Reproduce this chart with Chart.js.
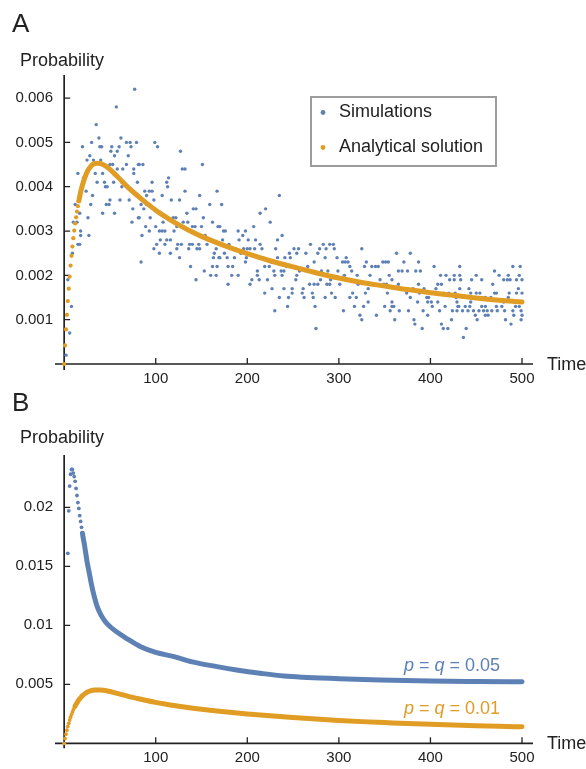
<!DOCTYPE html>
<html>
<head>
<meta charset="utf-8">
<script src="https://cdn.jsdelivr.net/npm/chart.js@4.4.0/dist/chart.umd.min.js"></script>
<style>
  html, body { margin: 0; padding: 0; background: #fff; }
  #wrap { position: relative; width: 586px; height: 769px; }
  canvas { display: block; position: absolute; left: 0; }
  #panelA { top: 0; }
  #panelB { top: 385px; }
</style>
</head>
<body>
<div id="wrap">
<canvas id="panelA" width="586" height="400"></canvas>
<canvas id="panelB" width="586" height="384"></canvas>
</div>
<script>
// ---- data ----
const timeTicks = [100, 200, 300, 400, 500];
const probTicksA = [0.001, 0.002, 0.003, 0.004, 0.005, 0.006];
const probLabelsA = ['0.001', '0.002', '0.003', '0.004', '0.005', '0.006'];
const probTicksB = [0.005, 0.01, 0.015, 0.02];
const probLabelsB = ['0.005', '0.01', '0.015', '0.02'];

// simulation estimates, panel A: [time, probability]
const simulations = [
  [2,0.0002],[4,0.0019],[6,0.0007],[8,0.0013],[9,0.0025],[10,0.0032],[12,0.0036],[14,0.0032],[15,0.0027],[15,0.0043],
  [17,0.0027],[17,0.0034],[18,0.0029],[18,0.0030],[20,0.0049],[21,0.0042],[24,0.0039],[25,0.0046],[26,0.0033],[27,0.0029],
  [28,0.0047],[29,0.0036],[30,0.0050],[31,0.0038],[32,0.0046],[34,0.0043],[35,0.0054],[36,0.0041],[38,0.0051],[39,0.0049],
  [40,0.0046],[41,0.0049],[42,0.0034],[42,0.0043],[44,0.0041],[45,0.0040],[46,0.0036],[47,0.0040],[49,0.0036],[50,0.0037],
  [50,0.0045],[51,0.0048],[52,0.0049],[53,0.0045],[54,0.0041],[55,0.0034],[55,0.0047],[57,0.0058],[58,0.0044],[58,0.0048],
  [60,0.0049],[61,0.0037],[62,0.0051],[63,0.0040],[63,0.0041],[64,0.0044],[68,0.0045],[68,0.0050],[70,0.0047],[71,0.0037],
  [72,0.0050],[73,0.0049],[74,0.0032],[75,0.0035],[76,0.0043],[76,0.0044],[77,0.0062],[79,0.0050],[80,0.0041],[81,0.0033],
  [81,0.0045],[82,0.0033],[82,0.0045],[84,0.0023],[84,0.0036],[85,0.0029],[86,0.0045],[87,0.0035],[88,0.0039],[89,0.0031],
  [90,0.0036],[90,0.0038],[93,0.0030],[93,0.0039],[94,0.0033],[96,0.0039],[96,0.0041],[98,0.0026],[98,0.0037],[99,0.0050],
  [100,0.0031],[101,0.0027],[102,0.0049],[104,0.0025],[104,0.0030],[105,0.0028],[107,0.0030],[107,0.0038],[108,0.0032],[110,0.0027],
  [110,0.0030],[112,0.0028],[112,0.0041],[113,0.0040],[114,0.0042],[116,0.0025],[116,0.0028],[117,0.0037],[119,0.0033],[120,0.0030],
  [122,0.0033],[123,0.0026],[123,0.0031],[124,0.0027],[126,0.0024],[126,0.0037],[127,0.0048],[128,0.0027],[129,0.0044],[130,0.0032],
  [132,0.0039],[132,0.0044],[134,0.0034],[135,0.0032],[136,0.0026],[137,0.0027],[138,0.0022],[140,0.0027],[140,0.0031],[141,0.0035],
  [143,0.0031],[144,0.0019],[144,0.0035],[145,0.0026],[147,0.0027],[148,0.0026],[148,0.0029],[148,0.0038],[150,0.0031],[151,0.0045],
  [152,0.0033],[153,0.0021],[154,0.0029],[156,0.0027],[157,0.0028],[159,0.0036],[160,0.0020],[162,0.0022],[162,0.0032],[163,0.0024],
  [164,0.0025],[166,0.0020],[166,0.0026],[167,0.0022],[167,0.0039],[168,0.0031],[169,0.0024],[170,0.0024],[170,0.0031],[172,0.0036],
  [173,0.0028],[174,0.0030],[175,0.0025],[176,0.0030],[178,0.0024],[179,0.0018],[179,0.0022],[180,0.0027],[183,0.0020],[184,0.0022],
  [186,0.0024],[187,0.0026],[190,0.0020],[190,0.0030],[191,0.0028],[193,0.0025],[195,0.0029],[196,0.0026],[198,0.0023],[198,0.0030],
  [199,0.0024],[200,0.0026],[201,0.0028],[203,0.0018],[203,0.0026],[205,0.0019],[207,0.0031],[208,0.0026],[209,0.0028],[211,0.0020],
  [211,0.0021],[213,0.0019],[214,0.0027],[214,0.0034],[216,0.0026],[217,0.0024],[219,0.0016],[219,0.0022],[220,0.0035],[222,0.0019],
  [224,0.0022],[225,0.0032],[226,0.0023],[227,0.0017],[229,0.0021],[230,0.0012],[230,0.0020],[231,0.0026],[233,0.0024],[233,0.0028],
  [235,0.0015],[235,0.0038],[237,0.0021],[238,0.0020],[238,0.0029],[240,0.0017],[240,0.0021],[241,0.0024],[243,0.0022],[244,0.0013],
  [245,0.0015],[246,0.0025],[247,0.0024],[249,0.0016],[249,0.0017],[251,0.0026],[252,0.0022],[253,0.0019],[254,0.0020],[254,0.0025],
  [256,0.0026],[257,0.0021],[260,0.0016],[261,0.0017],[262,0.0015],[264,0.0025],[266,0.0022],[268,0.0018],[269,0.0027],[271,0.0016],
  [272,0.0015],[273,0.0018],[273,0.0023],[274,0.0013],[275,0.0008],[277,0.0018],[277,0.0025],[279,0.0026],[280,0.0019],[281,0.0021],
  [283,0.0027],[285,0.0015],[285,0.0024],[286,0.0026],[287,0.0018],[288,0.0021],[290,0.0018],[290,0.0027],[291,0.0019],[292,0.0016],
  [294,0.0027],[295,0.0026],[296,0.0015],[298,0.0024],[299,0.0021],[301,0.0018],[304,0.0023],[305,0.0012],[306,0.0020],[307,0.0023],
  [308,0.0024],[310,0.0023],[312,0.0015],[312,0.0022],[314,0.0021],[315,0.0016],[317,0.0013],[319,0.0015],[320,0.0020],[321,0.0018],
  [323,0.0011],[325,0.0010],[325,0.0026],[327,0.0013],[328,0.0022],[329,0.0016],[330,0.0023],[332,0.0014],[332,0.0017],[334,0.0020],
  [336,0.0018],[336,0.0022],[340,0.0022],[341,0.0011],[343,0.0022],[345,0.0019],[348,0.0023],[349,0.0018],[350,0.0013],[351,0.0023],
  [352,0.0018],[353,0.0016],[354,0.0023],[355,0.0020],[356,0.0012],[358,0.0013],[358,0.0014],[358,0.0019],[360,0.0013],[361,0.0010],
  [363,0.0025],[365,0.0018],[365,0.0021],[366,0.0012],[369,0.0021],[371,0.0023],[374,0.0016],[375,0.0021],[376,0.0012],[378,0.0015],
  [378,0.0025],[381,0.0017],[382,0.0010],[383,0.0009],[384,0.0021],[386,0.0014],[387,0.0018],[387,0.0023],[388,0.0016],[389,0.0021],
  [391,0.0008],[392,0.0012],[393,0.0017],[396,0.0015],[397,0.0011],[397,0.0014],[398,0.0015],[401,0.0014],[402,0.0013],[403,0.0016],
  [404,0.0022],[406,0.0017],[408,0.0014],[408,0.0018],[410,0.0012],[411,0.0020],[412,0.0009],[412,0.0018],[414,0.0008],[414,0.0016],
  [416,0.0013],[417,0.0020],[419,0.0008],[420,0.0016],[421,0.0019],[423,0.0010],[424,0.0012],[426,0.0019],[426,0.0020],[427,0.0016],
  [428,0.0015],[429,0.0012],[429,0.0014],[430,0.0013],[431,0.0013],[432,0.0017],[432,0.0020],[432,0.0022],[433,0.0019],[435,0.0012],
  [436,0.0006],[438,0.0013],[439,0.0008],[441,0.0012],[442,0.0017],[443,0.0013],[444,0.0014],[444,0.0016],[445,0.0019],[447,0.0012],
  [449,0.0011],[450,0.0016],[450,0.0020],[451,0.0010],[453,0.0012],[454,0.0016],[456,0.0013],[456,0.0015],[456,0.0019],[458,0.0012],
  [460,0.0011],[460,0.0013],[460,0.0015],[462,0.0012],[463,0.0011],[466,0.0015],[467,0.0012],[468,0.0018],[470,0.0016],[470,0.0021],
  [472,0.0013],[472,0.0016],[473,0.0012],[475,0.0020],[478,0.0013],[480,0.0014],[480,0.0019],[481,0.0012],[482,0.0010],[484,0.0019],
  [485,0.0015],[485,0.0020],[486,0.0016],[487,0.0019],[488,0.0009],[490,0.0012],[490,0.0022],[491,0.0011],[493,0.0013],[494,0.0016],
  [494,0.0019],[496,0.0017],[497,0.0013],[497,0.0020],[498,0.0022],[499,0.0010],[499,0.0012],[500,0.0011],[500,0.0016],[500,0.0019]
];

// analytical solution, p = q = 0.01: [time, probability]
const analytical = [
  [0,0],[1,0.00042],[2,0.00078],[3,0.00111],[4,0.00142],[5,0.00170],[6,0.00197],[7,0.00222],[8,0.00244],[9,0.00265],
  [10,0.00284],[11,0.00301],[12,0.00317],[13,0.00331],[14,0.00344],[15,0.00356],[16,0.00368],[17,0.00378],[18,0.00388],[19,0.00396],
  [20,0.00404],[22,0.00417],[24,0.00428],[26,0.00437],[28,0.00443],[30,0.00448],[33,0.00452],[36,0.00453],[40,0.00452],[45,0.00447],
  [50,0.00439],[55,0.00429],[60,0.00419],[70,0.00398],[80,0.00380],[90,0.00363],[100,0.00347],[110,0.00333],[120,0.00320],[135,0.00303],
  [150,0.00288],[175,0.00267],[200,0.00249],[225,0.00233],[250,0.00219],[275,0.00206],[300,0.00194],[325,0.00184],[350,0.00176],[375,0.00168],
  [400,0.00161],[425,0.00155],[450,0.00149],[475,0.00144],[500,0.00140]
];

// analytical solution, p = q = 0.05: [time, probability]
const analyticalHigh = [
  [4,0.0161],[5,0.0197],[6,0.0218],[7,0.0228],[8,0.0232],[9,0.0232],[10,0.0229],[11,0.0226],[12,0.0222],[13,0.0216],
  [14,0.0210],[15,0.0204],[16,0.0199],[17,0.0193],[18,0.0188],[19,0.0183],[20,0.0178],[21,0.0173],[22,0.0169],[23,0.0164],
  [24,0.0159],[25,0.0154],[27,0.0146],[30,0.0134],[33,0.0124],[36,0.0116],[40,0.0109],[45,0.0103],[50,0.0099],[60,0.0093],
  [70,0.0088],[83,0.0082],[100,0.0077],[120,0.00735],[140,0.0069],[167,0.0065],[190,0.0062],[214,0.00594],[240,0.0057],[260,0.0056],
  [300,0.00548],[345,0.00536],[400,0.00528],[450,0.00524],[500,0.00521]
];

// ---- styling ----
const blue = '#5E81B5';
const orange = '#E19C24';
const ink = '#222';
const family = "'Liberation Sans', Arial, Helvetica, sans-serif";

const toPoints = rows => rows.map(r => ({ x: r[0], y: r[1] }));

// Mathematica-like axes crossing at the origin, inward ticks, labels
const mmaAxes = {
  id: 'mmaAxes',
  beforeDatasetsDraw(chart) {
    const { ctx, chartArea: a, scales: { x, y } } = chart;
    const x0 = x.getPixelForValue(0), y0 = y.getPixelForValue(0);
    ctx.save();
    ctx.strokeStyle = ink;
    ctx.lineWidth = 1.7;
    ctx.beginPath();
    ctx.moveTo(x0, a.top); ctx.lineTo(x0, a.bottom);
    ctx.moveTo(a.left, y0); ctx.lineTo(a.right, y0);
    ctx.stroke();
    ctx.lineWidth = 1.3;
    ctx.beginPath();
    x.ticks.forEach(t => { const p = x.getPixelForValue(t.value); ctx.moveTo(p, y0); ctx.lineTo(p, y0 - 6); });
    y.ticks.forEach(t => { const p = y.getPixelForValue(t.value); ctx.moveTo(x0, p); ctx.lineTo(x0 + 6, p); });
    ctx.stroke();
    ctx.restore();
  },
  afterDraw(chart, args, opts) {
    const { ctx, scales: { y } } = chart;
    ctx.save();
    ctx.fillStyle = ink;
    ctx.textBaseline = 'alphabetic';
    ctx.font = `26px ${family}`;
    ctx.fillText(opts.panel, 12, opts.panelY);
    ctx.font = `18px ${family}`;
    ctx.fillText('Probability', 20, opts.titleY);
    ctx.textBaseline = 'middle';
    ctx.fillText('Time', 547, y.getPixelForValue(0) + 1);

    if (opts.legend) {
      const L = opts.legend;
      ctx.strokeStyle = '#9c9c9c';
      ctx.lineWidth = 2;
      ctx.strokeRect(L.x, L.y, L.w, L.h);
      L.items.forEach((it, i) => {
        const cy = L.y + 15.5 + i * 35;
        ctx.fillStyle = it.color;
        ctx.beginPath(); ctx.arc(L.x + 12, cy, 2.4, 0, Math.PI * 2); ctx.fill();
        ctx.fillStyle = ink;
        ctx.fillText(it.text, L.x + 28, cy);
      });
    }
    if (opts.notes) {
      ctx.textBaseline = 'alphabetic';
      opts.notes.forEach(n => {
        let cx = n.x;
        ctx.fillStyle = n.color;
        n.parts.forEach(([txt, italic]) => {
          ctx.font = `${italic ? 'italic ' : ''}18px ${family}`;
          ctx.fillText(txt, cx, n.y);
          cx += ctx.measureText(txt).width;
        });
      });
    }
    ctx.restore();
  }
};

function xScale(pad) {
  return {
    type: 'linear', min: -10, max: 512,
    afterFit: s => { s.height = 15; },
    afterBuildTicks: s => { s.ticks = timeTicks.map(v => ({ value: v })); },
    grid: { display: false, drawTicks: false },
    border: { display: false },
    ticks: { padding: pad, color: ink, font: { family, size: 15 }, maxRotation: 0, autoSkip: false,
             callback: (v, i) => String(timeTicks[i]) }
  };
}
function yScale(min, max, ticks, labels) {
  return {
    type: 'linear', min, max,
    afterFit: s => { s.width = 55; },
    afterBuildTicks: s => { s.ticks = ticks.map(v => ({ value: v })); },
    grid: { display: false, drawTicks: false },
    border: { display: false },
    ticks: { padding: 2, color: ink, font: { family, size: 15 }, autoSkip: false,
             callback: (v, i) => labels[i] }
  };
}

const common = {
  responsive: false,
  animation: false,
  events: [],
  plugins: { legend: { display: false }, tooltip: { enabled: false } }
};

const anaPts = toPoints(analytical);
const highPts = toPoints(analyticalHigh);

new Chart(document.getElementById('panelA'), {
  type: 'scatter',
  data: {
    datasets: [
      { data: anaPts.filter(p => p.x >= 16), showLine: true, borderColor: orange, borderWidth: 5,
        pointRadius: 0, cubicInterpolationMode: 'monotone', borderCapStyle: 'round' },
      { data: anaPts.filter(p => p.x <= 20), pointRadius: 2.1, backgroundColor: orange, borderWidth: 0 },
      { data: toPoints(simulations), pointRadius: 1.7, backgroundColor: blue, borderWidth: 0 }
    ]
  },
  options: {
    ...common,
    layout: { padding: { top: 75, right: 53, bottom: 15, left: 0 } },
    scales: { x: xScale(0), y: yScale(-0.000135, 0.00652, probTicksA, probLabelsA) },
    plugins: {
      ...common.plugins,
      mmaAxes: {
        panel: 'A', panelY: 32, titleY: 66,
        legend: { x: 311, y: 97, w: 185, h: 69,
                  items: [{ text: 'Simulations', color: blue }, { text: 'Analytical solution', color: orange }] }
      }
    }
  },
  plugins: [mmaAxes]
});

new Chart(document.getElementById('panelB'), {
  type: 'scatter',
  data: {
    datasets: [
      { data: anaPts.filter(p => p.x >= 12), showLine: true, borderColor: orange, borderWidth: 5,
        pointRadius: 0, cubicInterpolationMode: 'monotone', borderCapStyle: 'round' },
      { data: anaPts.filter(p => p.x <= 14), pointRadius: 1.9, backgroundColor: orange, borderWidth: 0 },
      { data: highPts.filter(p => p.x >= 20), showLine: true, borderColor: blue, borderWidth: 5,
        pointRadius: 0, cubicInterpolationMode: 'monotone', borderCapStyle: 'round' },
      { data: highPts.filter(p => p.x <= 23), pointRadius: 1.9, backgroundColor: blue, borderWidth: 0 }
    ]
  },
  options: {
    ...common,
    layout: { padding: { top: 70, right: 53, bottom: 5.7, left: 0 } },
    scales: { x: xScale(1), y: yScale(-0.00042, 0.02443, probTicksB, probLabelsB) },
    plugins: {
      ...common.plugins,
      mmaAxes: {
        panel: 'B', panelY: 26, titleY: 58,
        notes: [
          { x: 404, y: 286, color: blue, parts: [['p', true], [' = ', false], ['q', true], [' = 0.05', false]] },
          { x: 404, y: 329, color: orange, parts: [['p', true], [' = ', false], ['q', true], [' = 0.01', false]] }
        ]
      }
    }
  },
  plugins: [mmaAxes]
});
</script>
</body>
</html>
